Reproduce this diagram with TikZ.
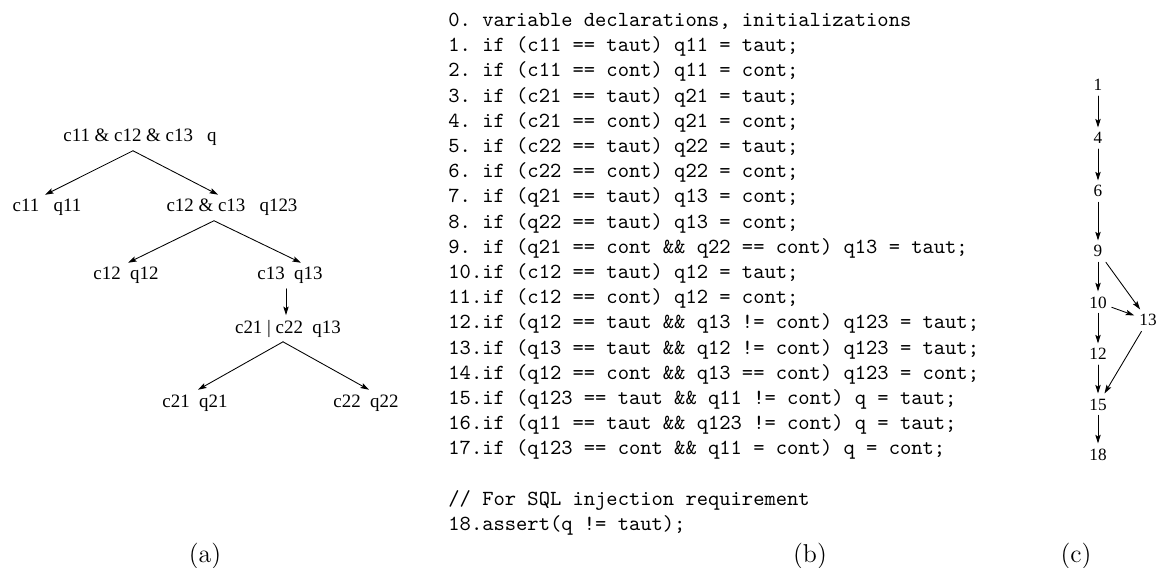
\documentclass[tikz,border=0pt]{standalone}
\usepackage{fontspec}
\newfontfamily\timesfont{Liberation Serif}
\usetikzlibrary{arrows.meta,calc}

\begin{document}
\begin{tikzpicture}[x=0.465pt, y=-0.465pt, line cap=round, line join=round, >={Stealth[length=4pt,width=2.5pt,inset=0.8pt]}]
  \tikzset{tree/.style={font=\timesfont\fontsize{8.8}{10.5}\selectfont, inner sep=2pt, anchor=base},
    flow/.style={font=\timesfont\fontsize{8}{9.5}\selectfont, inner sep=2.2pt, anchor=base},
    code/.style={font=\ttfamily\fontsize{10}{12}\selectfont\frenchspacing, inner sep=0pt, anchor=base west},
    caption/.style={font=\fontsize{12}{14}\selectfont, anchor=base}}
  \useasboundingbox (0,0) rectangle (1156,568);

  % (a) decomposition tree
  \node[tree] (root) at (140,142) {c11 \& c12 \& c13~~~q};
  \node[tree] (c11) at (47,212) {c11~~~q11};
  \node[tree] (c1213) at (232,212) {c12 \& c13~~~q123};
  \node[tree] (c12) at (126,280) {c12~~q12};
  \node[tree] (c13) at (290,280) {c13~~q13};
  \node[tree] (c2122) at (288,333) {c21 | c22~~q13};
  \node[tree] (c21) at (195,407) {c21~~q21};
  \node[tree] (c22) at (366,407) {c22~~q22};

  \draw[->] ($(root.south)+(-7,0)$) -- ($(c11.north)+(-2,0)$);
  \draw[->] ($(root.south)+(-7,0)$) -- ($(c1213.north)+(-14,0)$);
  \draw[->] ($(c1213.south)+(-18,0)$) -- ($(c12.north)+(2,0)$);
  \draw[->] ($(c1213.south)+(-18,0)$) -- ($(c13.north)+(11,0)$);
  \draw[->] ($(c13.south)+(-4,0)$) -- ($(c2122.north)+(-2,0)$);
  \draw[->] ($(c2122.south)+(-5,0)$) -- ($(c21.north)+(3,0)$);
  \draw[->] ($(c2122.south)+(-5,0)$) -- ($(c22.north)+(3,0)$);

  % (b) program, one node per line
  \foreach \k/\txt in {0/{0. variable declarations, initializations},
      1/{1. if (c11 == taut) q11 = taut;},
      2/{2. if (c11 == cont) q11 = cont;},
      3/{3. if (c21 == taut) q21 = taut;},
      4/{4. if (c21 == cont) q21 = cont;},
      5/{5. if (c22 == taut) q22 = taut;},
      6/{6. if (c22 == cont) q22 = cont;},
      7/{7. if (q21 == taut) q13 = cont;},
      8/{8. if (q22 == taut) q13 = cont;},
      9/{9. if (q21 == cont \&\& q22 == cont) q13 = taut;},
      10/{10.if (c12 == taut) q12 = taut;},
      11/{11.if (c12 == cont) q12 = cont;},
      12/{12.if (q12 == taut \&\& q13 != cont) q123 = taut;},
      13/{13.if (q13 == taut \&\& q12 != cont) q123 = taut;},
      14/{14.if (q12 == cont \&\& q13 == cont) q123 = cont;},
      15/{15.if (q123 == taut \&\& q11 != cont) q = taut;},
      16/{16.if (q11 == taut \&\& q123 != cont) q = taut;},
      17/{17.if (q123 == cont \&\& q11 = cont) q = cont;},
      19/{// For SQL injection requirement},
      20/{18.assert(q != taut);}}
    \node[code] (line\k) at (448,{26.5+25.2*\k}) {\txt};

  % (c) dependence graph
  \node[flow] (n1) at (1098,91) {1};
  \node[flow] (n4) at (1098,144) {4};
  \node[flow] (n6) at (1098,197) {6};
  \node[flow] (n9) at (1098,257) {9};
  \node[flow] (n10) at (1098,308) {10};
  \node[flow] (n13) at (1148,326) {13};
  \node[flow] (n12) at (1098,360) {12};
  \node[flow] (n15) at (1098,410) {15};
  \node[flow] (n18) at (1098,460) {18};
  \foreach \a/\b in {n1/n4, n4/n6, n6/n9, n9/n10, n10/n12, n12/n15, n15/n18, n9/n13, n10/n13, n13/n15}
    \draw[->] (\a) -- (\b);

  % captions
  \node[caption] (capa) at (205,562) {(a)};
  \node[caption] (capb) at (810,562) {(b)};
  \node[caption] (capc) at (1076,562) {(c)};
\end{tikzpicture}
\end{document}
